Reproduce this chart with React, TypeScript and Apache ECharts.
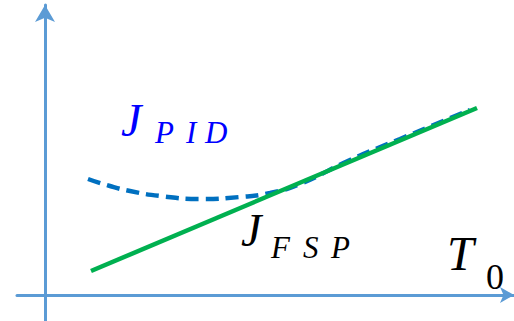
import React, { useEffect, useRef } from "react";
import * as echarts from "echarts";

const pidX = [43, 65, 85, 115, 155, 195, 225, 255, 305, 355, 425];
const pidY = [116, 109, 104, 99, 96, 98, 102, 111, 135, 156, 185];
const fspX = [46, 432];
const fspY = [24, 187];
const labelPID = ["J", "P", "I", "D"];
const labelFSP = ["J", "F", "S", "P"];
const labelT = ["T", "0"];

export default function App() {
  const ref = useRef<HTMLDivElement>(null);
  useEffect(() => {
    const chart = echarts.init(ref.current!, null, { renderer: "svg" });
    const mkText = (text: string, x: number, baseline: number, size: number, color: string, italic: boolean) => ({
      type: "text",
      x,
      y: baseline + size * 0.2,
      style: {
        text,
        fill: color,
        fontFamily: "Liberation Serif",
        fontStyle: italic ? "italic" : "normal",
        fontSize: size,
        textVerticalAlign: "bottom",
      },
    });
    chart.setOption({
      animation: false,
      grid: { left: 17, right: 0, top: 5, bottom: 0, containLabel: false },
      xAxis: {
        type: "value",
        min: -28,
        max: 469,
        axisLine: {
          onZero: true,
          symbol: ["none", "arrow"],
          symbolSize: [12, 14],
          lineStyle: { color: "#5B9BD5", width: 3 },
        },
        axisTick: { show: false },
        axisLabel: { show: false },
        splitLine: { show: false },
      },
      yAxis: {
        type: "value",
        min: -26,
        max: 290,
        axisLine: {
          onZero: true,
          symbol: ["none", "arrow"],
          symbolSize: [15, 17],
          lineStyle: { color: "#5B9BD5", width: 3 },
        },
        axisTick: { show: false },
        axisLabel: { show: false },
        splitLine: { show: false },
      },
      series: [
        {
          type: "line",
          smooth: true,
          symbol: "none",
          data: pidX.map((x, i) => [x, pidY[i]]),
          lineStyle: { color: "#0070C0", width: 4.5, type: [13, 7], cap: "butt" },
          z: 2,
        },
        {
          type: "line",
          symbol: "none",
          data: fspX.map((x, i) => [x, fspY[i]]),
          lineStyle: { color: "#00B050", width: 4.5 },
          z: 3,
        },
      ],
      graphic: [
        mkText(labelPID[0], 121, 134, 46, "#0000FF", true),
        mkText(labelPID[1], 155, 142, 31, "#0000FF", true),
        mkText(labelPID[2], 186, 142, 31, "#0000FF", true),
        mkText(labelPID[3], 205, 142, 31, "#0000FF", true),
        mkText(labelFSP[0], 241, 244, 46, "#000000", true),
        mkText(labelFSP[1], 271, 257, 31, "#000000", true),
        mkText(labelFSP[2], 303, 257, 31, "#000000", true),
        mkText(labelFSP[3], 331, 257, 31, "#000000", true),
        mkText(labelT[0], 447, 268, 48, "#000000", true),
        mkText(labelT[1], 486, 288, 36, "#000000", false),
      ],
    });
    return () => chart.dispose();
  }, []);
  return <div ref={ref} style={{ width: 514, height: 321, position: "absolute", left: 0, top: 0 }} />;
}
